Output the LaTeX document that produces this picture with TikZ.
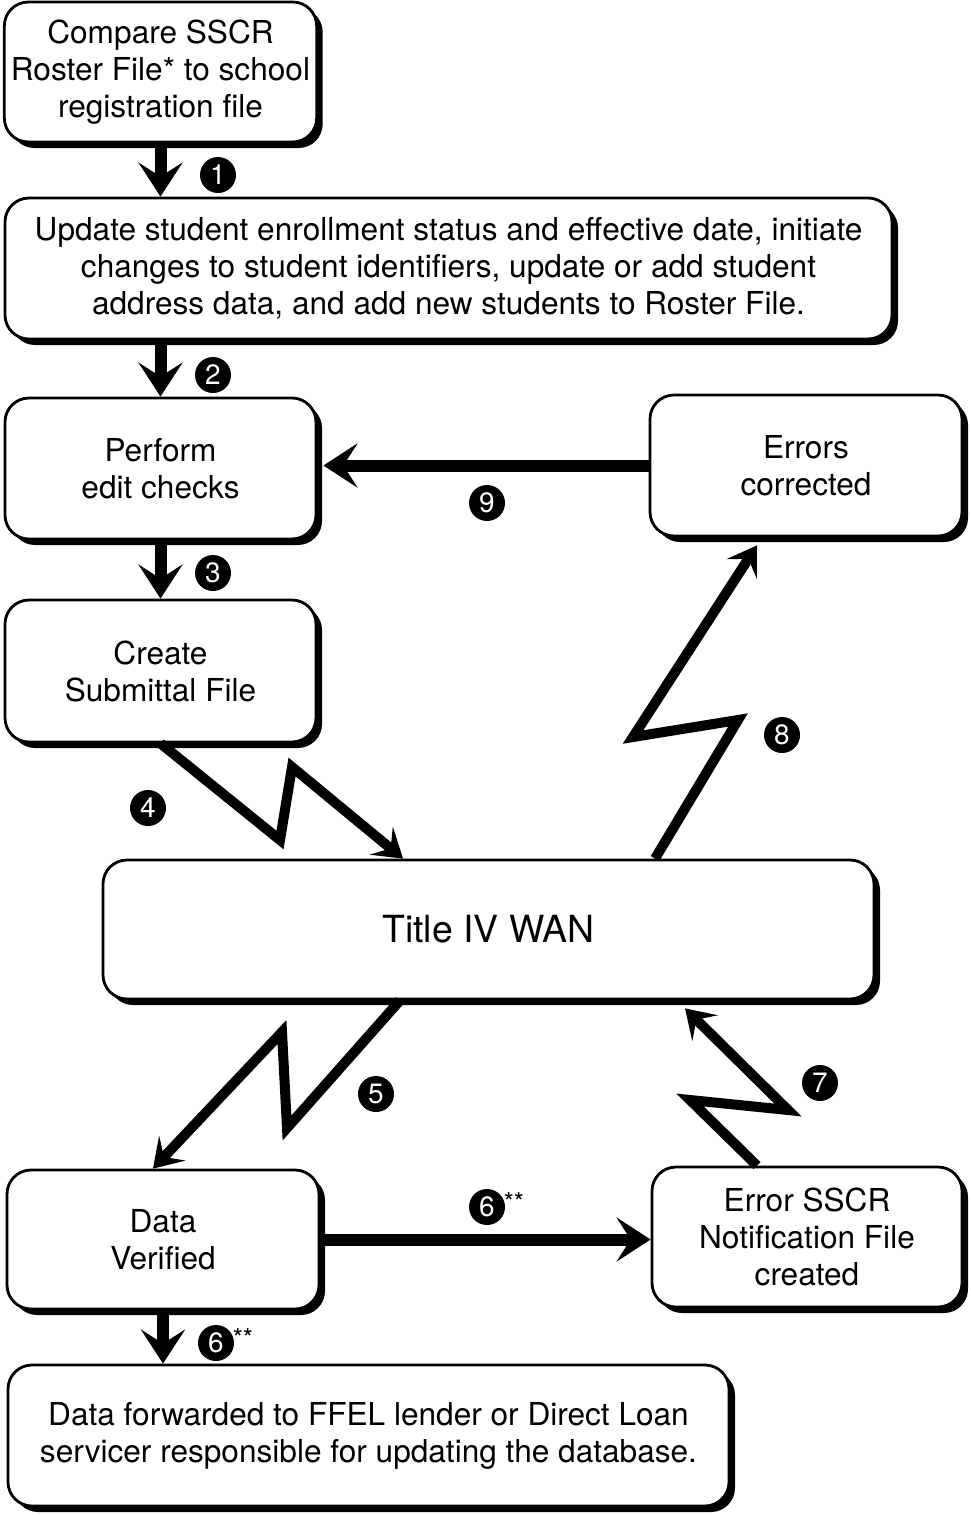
\documentclass[tikz,border=0pt]{standalone}
\usepackage{fontspec}
\setmainfont{TeX Gyre Heros}
\usetikzlibrary{shapes,arrows.meta,shadows}
\begin{document}
\begin{tikzpicture}[x=0.5pt,y=-0.5pt]

        \tikzstyle{stepbox} = [rectangle, rounded corners=12pt, draw=black, line width=1.4pt, fill=white, align=center, font=\fontsize{15.8}{18.5}\selectfont, drop shadow={shadow xshift=3pt, shadow yshift=-3pt, opacity=1, fill=black}]
        \tikzstyle{num} = [circle, fill=black, text=white, inner sep=0pt, minimum size=18pt, font=\fontsize{14}{14}\selectfont]
        \tikzstyle{stars} = [label={[text=black, inner sep=0pt, font=\fontsize{13}{13}\selectfont, xshift=-1pt, yshift=2.5pt]east:**}]
        \tikzstyle{arrow} = [line width=6pt, -{Stealth[length=17pt, width=22pt, inset=7pt]}]
        \tikzstyle{bolt} = [line width=5pt, -{Stealth[length=14pt, width=18pt, inset=6pt]}]

        \useasboundingbox (0,0) rectangle (970,1515);

        \node (compare) [stepbox, minimum width=155.5pt, minimum height=70pt] at (160.5,72) {Compare SSCR\\Roster File* to school\\registration file};
        \node (update) [stepbox, minimum width=443.5pt, minimum height=70.5pt] at (448.5,268.5) {Update student enrollment status and effective date, initiate\\changes to student identifiers, update or add student\\address data, and add new students to Roster File.};
        \node (perform) [stepbox, minimum width=155.5pt, minimum height=70.5pt] at (160.5,468.5) {Perform\\edit checks};
        \node (errors) [stepbox, minimum width=156pt, minimum height=70.5pt] at (806,465.5) {Errors\\corrected};
        \node (create) [stepbox, minimum width=155.5pt, minimum height=71pt] at (160.5,671) {Create\\Submittal File};
        \node (wan) [stepbox, minimum width=385.5pt, minimum height=69.5pt, font=\fontsize{18.7}{20}\selectfont] at (488.5,929.5) {Title IV WAN};
        \node (verified) [stepbox, minimum width=156pt, minimum height=69.5pt] at (163,1239.5) {Data\\Verified};
        \node (errsscr) [stepbox, minimum width=155pt, minimum height=70pt] at (807,1237) {Error SSCR\\Notification File\\created};
        \node (forward) [stepbox, minimum width=360.5pt, minimum height=70.5pt] at (368.5,1435.5) {Data forwarded to FFEL lender or Direct Loan\\servicer responsible for updating the database.};

        % straight steps
        \draw [arrow] (compare.south) -- (compare.south |- update.north);
        \draw [arrow] (update.south -| compare.south) -- (compare.south |- perform.north);
        \draw [arrow] (perform.south) -- (perform.south |- create.north);
        \draw [arrow] (errors.west) -- ([xshift=3pt]errors.west -| perform.east);
        \draw [arrow] (verified.east) -- (verified.east -| errsscr.west);
        \draw [arrow] (verified.south) -- (verified.south |- forward.north);

        % transmissions over the WAN
        \draw [bolt] (create.south) -- (280,840) -- (292,767) -- (403,0 |- wan.north);
        \draw [bolt] (655,0 |- wan.north) -- (738,720) -- (633,737) -- ([yshift=-4pt]757,0 |- errors.south);
        \draw [bolt] (400,0 |- wan.south) -- (287,1128) -- (282,1032) -- (153,0 |- verified.north);
        \draw [bolt] (757,0 |- errsscr.north) -- (690,1100) -- (788,1110) -- ([yshift=-4pt]685,0 |- wan.south);

        \node (n1) [num] at (218,175) {1};
        \node (n2) [num] at (213,375) {2};
        \node (n3) [num] at (213,573) {3};
        \node (n4) [num] at (148,808) {4};
        \node (n5) [num] at (376,1094) {5};
        \node (n6a) [num, stars] at (487,1207) {6};
        \node (n6b) [num, stars] at (216,1343) {6};
        \node (n7) [num] at (820,1083) {7};
        \node (n8) [num] at (782,735) {8};
        \node (n9) [num] at (487,503) {9};
\end{tikzpicture}
\end{document}
